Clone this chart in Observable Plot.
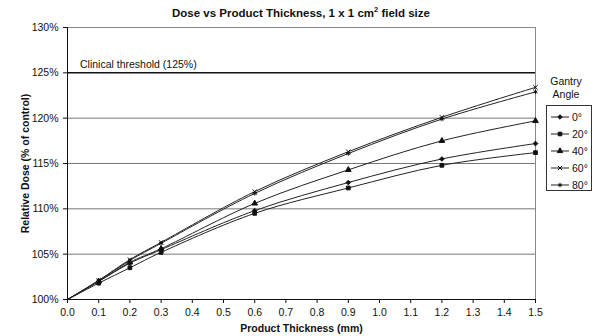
<!DOCTYPE html>
<html>
<head>
<meta charset="utf-8">
<script src="https://cdn.jsdelivr.net/npm/d3@7"></script>
<script src="https://cdn.jsdelivr.net/npm/@observablehq/plot@0.6"></script>
<style>
  html, body { margin: 0; padding: 0; background: #fff; }
  #wrap { position: relative; width: 597px; height: 336px; font-family: "Liberation Sans", Arial, sans-serif; }
  #title { position: absolute; top: 5px; left: 0; width: 602px; text-align: center; font-weight: bold; font-size: 11.5px; color: #111; }
  #title sup { font-size: 7.5px; }
  #legTitle { position: absolute; left: 540px; top: 75px; width: 52px; text-align: center; font-size: 10.5px; line-height: 13px; color: #111; }
  #legend { position: absolute; left: 546px; top: 105px; width: 46px; height: 86px; border: 1px solid #333; box-sizing: border-box; }
  .row { position: absolute; left: 3px; height: 14px; display: flex; align-items: center; font-size: 10.5px; color: #111; }
  .row svg { margin-right: 2px; }
</style>
</head>
<body>
<div id="wrap">
  <div id="title">Dose vs Product Thickness, 1 x 1 cm<sup>2</sup> field size</div>
  <div id="chart"></div>
  <div id="legTitle">Gantry<br>Angle</div>
  <div id="legend"></div>
</div>
<script>
const thickness = [0, 0.1, 0.2, 0.3, 0.6, 0.9, 1.2, 1.5];
const angles = ["0°", "20°", "40°", "60°", "80°"];
const dose0  = [100, 102.0, 104.0, 105.5, 109.8, 112.9, 115.5, 117.2];
const dose20 = [100, 101.8, 103.5, 105.2, 109.5, 112.3, 114.8, 116.2];
const dose40 = [100, 102.0, 104.1, 105.6, 110.6, 114.3, 117.5, 119.7];
const dose60 = [100, 102.1, 104.4, 106.3, 111.9, 116.3, 120.1, 123.4];
const dose80 = [100, 102.1, 104.3, 106.2, 111.7, 116.1, 119.9, 122.9];
const yTicks = [100, 105, 110, 115, 120, 125, 130];
const xTicks = [0, 0.1, 0.2, 0.3, 0.4, 0.5, 0.6, 0.7, 0.8, 0.9, 1.0, 1.1, 1.2, 1.3, 1.4, 1.5];
const threshold = [125];
const thresholdLabel = ["Clinical threshold (125%)"];

const series = [dose0, dose20, dose40, dose60, dose80];
const symbols = ["diamond2", "square", "triangle", "times", "asterisk"];
const data = [];
series.forEach((s, i) => s.forEach((v, j) => data.push({angle: angles[i], x: thickness[j], y: v})));

const chart = Plot.plot({
  width: 597,
  height: 336,
  marginLeft: 67,
  marginRight: 62,
  marginTop: 27,
  marginBottom: 37,
  style: {fontFamily: "Liberation Sans, Arial, sans-serif", fontSize: "10.5px", color: "#111", background: "#fff"},
  x: {domain: [0, 1.5]},
  y: {domain: [100, 130]},
  symbol: {domain: angles, range: symbols},
  marks: [
    Plot.gridY(yTicks.filter(t => t > 100 && t !== 125), {stroke: "#777", strokeOpacity: 1, strokeWidth: 1}),
    Plot.ruleY([130], {stroke: "#888"}),
    Plot.ruleX([1.5], {stroke: "#888"}),
    Plot.ruleY(threshold, {stroke: "#111", strokeWidth: 1.5}),
    Plot.text(thresholdLabel, {x: 0.04, y: 125, text: d => d, textAnchor: "start", dy: -8, fontSize: 10.5, fill: "#111"}),
    Plot.line(data, {x: "x", y: "y", z: "angle", curve: "catmull-rom", stroke: "#222", strokeWidth: 1}),
    Plot.dot(data.filter(d => d.x > 0), {x: "x", y: "y", symbol: "angle", r: 2.1, stroke: "#111", fill: "#111", strokeWidth: 1}),
    Plot.axisX({ticks: xTicks, tickFormat: d3.format(".1f"), tickSize: 4, fontSize: 10.5, label: "Product Thickness (mm)", labelAnchor: "center", labelArrow: "none", labelOffset: 32}),
    Plot.axisY({ticks: yTicks, tickFormat: d => d + "%", tickSize: 4, fontSize: 10.5, label: "Relative Dose (% of control)", labelAnchor: "center", labelArrow: "none", labelOffset: 46}),
    Plot.ruleY([100], {stroke: "#111"}),
    Plot.ruleX([0], {stroke: "#111"})
  ]
});
document.getElementById("chart").appendChild(chart);
d3.select(chart).selectAll("[aria-label$='axis label'] text").attr("font-weight", "bold");

// legend
const symMap = {diamond2: d3.symbolDiamond2, square: d3.symbolSquare, triangle: d3.symbolTriangle, times: d3.symbolTimes, asterisk: d3.symbolAsterisk};
const leg = document.getElementById("legend");
angles.forEach((a, i) => {
  const row = document.createElement("div");
  row.className = "row";
  row.style.top = (4 + i * 17) + "px";
  const svg = d3.create("svg").attr("width", 20).attr("height", 10);
  svg.append("line").attr("x1", 1).attr("x2", 19).attr("y1", 5).attr("y2", 5).attr("stroke", "#222");
  svg.append("path").attr("transform", "translate(10,5)")
    .attr("d", d3.symbol(symMap[symbols[i]], 13)())
    .attr("fill", "#111").attr("stroke", "#111").attr("stroke-width", 1);
  row.appendChild(svg.node());
  row.appendChild(document.createTextNode(a));
  leg.appendChild(row);
});
</script>
</body>
</html>
